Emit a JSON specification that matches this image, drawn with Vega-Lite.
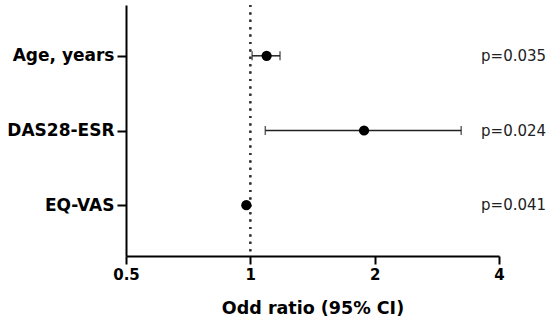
{
  "$schema": "https://vega.github.io/schema/vega-lite/v6.json",
  "width": 373,
  "height": 251,
  "autosize": {"type": "none"},
  "padding": {"left": 126, "top": 5, "right": 51, "bottom": 67},
  "background": "white",
  "config": {
    "view": {"stroke": null},
    "axis": {
      "grid": false,
      "domainColor": "black",
      "domainWidth": 2,
      "tickColor": "black",
      "tickWidth": 2,
      "labelFont": "DejaVu Sans",
      "labelFontWeight": "bold",
      "labelColor": "black",
      "titleFont": "DejaVu Sans",
      "titleColor": "black"
    }
  },
  "data": {
    "values": [
      {"var": "Age, years", "or": 1.095, "lo": 1.01, "hi": 1.18, "p": "p=0.035"},
      {"var": "DAS28-ESR", "or": 1.885, "lo": 1.087, "hi": 3.24, "p": "p=0.024"},
      {"var": "EQ-VAS", "or": 0.978, "lo": 0.972, "hi": 0.984, "p": "p=0.041"}
    ]
  },
  "layer": [
    {
      "mark": {"type": "rule", "strokeDash": [2, 5.4], "strokeWidth": 2, "color": "#333"},
      "encoding": {
        "x": {
          "datum": 1,
          "type": "quantitative",
          "scale": {"type": "log", "base": 2, "domain": [0.5, 4]},
          "axis": {
            "values": [0.5, 1, 2, 4],
            "title": "Odd ratio (95% CI)",
            "labelFontSize": 15,
            "tickSize": 8,
            "labelPadding": 3,
            "titleFontSize": 17.5,
            "titleFontWeight": "bold",
            "titlePadding": 17,
            "labelFlush": false
          }
        }
      }
    },
    {
      "mark": {"type": "rule", "strokeWidth": 1.5, "color": "#222"},
      "encoding": {
        "y": {"field": "var", "type": "nominal", "sort": null, "scale": {"type": "point", "padding": 0.68}, "axis": {"title": null, "labelFontSize": 17, "tickSize": 9, "labelPadding": 3}},
        "x": {"field": "lo", "type": "quantitative"},
        "x2": {"field": "hi"}
      }
    },
    {
      "mark": {"type": "tick", "thickness": 1.5, "size": 9, "color": "#222", "orient": "vertical"},
      "encoding": {
        "y": {"field": "var", "type": "nominal", "sort": null},
        "x": {"field": "lo", "type": "quantitative"}
      }
    },
    {
      "mark": {"type": "tick", "thickness": 1.5, "size": 9, "color": "#222", "orient": "vertical"},
      "encoding": {
        "y": {"field": "var", "type": "nominal", "sort": null},
        "x": {"field": "hi", "type": "quantitative"}
      }
    },
    {
      "mark": {"type": "circle", "size": 105, "color": "black", "opacity": 1},
      "encoding": {
        "y": {"field": "var", "type": "nominal", "sort": null},
        "x": {"field": "or", "type": "quantitative"}
      }
    },
    {
      "mark": {"type": "text", "align": "left", "baseline": "middle", "font": "DejaVu Sans", "fontSize": 15, "color": "#222"},
      "encoding": {
        "y": {"field": "var", "type": "nominal", "sort": null},
        "x": {"datum": 3.62, "type": "quantitative"},
        "text": {"field": "p"}
      }
    }
  ]
}
